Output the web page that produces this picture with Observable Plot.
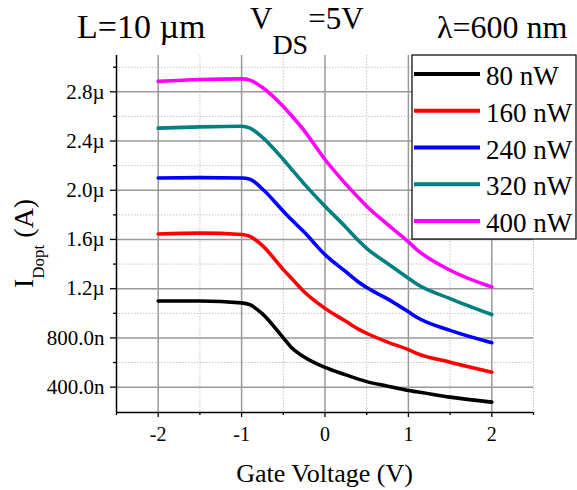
<!DOCTYPE html>
<html><head><meta charset="utf-8">
<script src="https://cdn.jsdelivr.net/npm/d3@7"></script>
<script src="https://cdn.jsdelivr.net/npm/@observablehq/plot@0.6"></script>
<style>
body{margin:0;background:#fff}
#chart{width:577px;height:490px;position:relative}
</style>
</head><body><div id="chart"></div>
<script>
// Gate voltage (V)
const gateVoltage = [-2, -1.5, -1, -0.9, -0.75, -0.5, -0.4, -0.25, 0, 0.25, 0.4, 0.5, 0.75, 1, 1.1, 1.5, 2];
// Photocurrent I_Dopt (µA)
const current80  = [1.100, 1.100, 1.085, 1.070, 0.995, 0.800, 0.720, 0.645, 0.560, 0.500, 0.465, 0.445, 0.408, 0.372, 0.362, 0.319, 0.278];
const current160 = [1.645, 1.652, 1.640, 1.625, 1.550, 1.355, 1.283, 1.175, 1.040, 0.935, 0.872, 0.838, 0.766, 0.705, 0.674, 0.603, 0.522];
const current240 = [2.100, 2.103, 2.100, 2.090, 2.010, 1.830, 1.760, 1.660, 1.477, 1.338, 1.255, 1.210, 1.117, 1.012, 0.968, 0.861, 0.761];
const current320 = [2.505, 2.515, 2.520, 2.505, 2.430, 2.250, 2.170, 2.052, 1.870, 1.700, 1.592, 1.528, 1.405, 1.285, 1.238, 1.120, 0.990];
const current400 = [2.885, 2.900, 2.905, 2.895, 2.835, 2.680, 2.605, 2.485, 2.250, 2.050, 1.940, 1.870, 1.722, 1.580, 1.518, 1.350, 1.214];

const seriesNames  = ["80 nW", "160 nW", "240 nW", "320 nW", "400 nW"];
const seriesColors = ["#000000", "#ff0000", "#0000ff", "#008080", "#ff00ff"];
const seriesValues = [current80, current160, current240, current320, current400];

const xMajorTicks = [-2, -1, 0, 1, 2];
const xMinorTicks = [-2.5, -1.5, -0.5, 0.5, 1.5, 2.5];
const yMajorTicks = [0.4, 0.8, 1.2, 1.6, 2.0, 2.4, 2.8];
const yMinorTicks = [0.6, 1.0, 1.4, 1.8, 2.2, 2.6, 3.0];
const xDomain = [-2.5, 2.5];
const yDomain = [0.194, 3.095];

const data = [];
seriesNames.forEach((name, s) => {
  gateVoltage.forEach((g, i) => data.push({gate: g, current: seriesValues[s][i], series: name}));
});

const fmtY = d => d < 1 ? (d * 1000).toFixed(1) + "n" : d.toFixed(1) + "\u00b5";
const fmtX = d => String(d);

const W = 577, H = 490, mT = 55, mB = 78, mL = 116, mR = 44;

const svg = Plot.plot({
  width: W, height: H,
  marginTop: mT, marginBottom: mB, marginLeft: mL, marginRight: mR,
  style: {fontFamily: "'Liberation Serif', 'Times New Roman', serif", background: "#fff", color: "#000", overflow: "visible"},
  x: {domain: xDomain},
  y: {domain: yDomain},
  color: {domain: seriesNames, range: seriesColors},
  marks: [
    Plot.gridX(xMinorTicks, {stroke: "#c4c4c4", strokeOpacity: 1, strokeDasharray: "1.5,1.5", strokeWidth: 1}),
    Plot.gridY(yMinorTicks, {stroke: "#c4c4c4", strokeOpacity: 1, strokeDasharray: "1.5,1.5", strokeWidth: 1}),
    Plot.gridX(xMajorTicks, {stroke: "#9a9a9a", strokeOpacity: 1, strokeWidth: 1.5}),
    Plot.gridY(yMajorTicks, {stroke: "#9a9a9a", strokeOpacity: 1, strokeWidth: 1.5}),
    Plot.axisX({ticks: xMajorTicks, tickSize: 5, tickPadding: 9, tickFormat: fmtX, fontSize: 20, label: null, strokeWidth: 1.3}),
    Plot.axisX({ticks: xMinorTicks, tickSize: 3, tickFormat: () => "", label: null, strokeWidth: 1.3}),
    Plot.axisY({ticks: yMajorTicks, tickSize: 6, tickPadding: 6, tickFormat: fmtY, fontSize: 21, label: null, strokeWidth: 1.3}),
    Plot.axisY({ticks: yMinorTicks, tickSize: 3, tickFormat: () => "", label: null, strokeWidth: 1.3}),
    Plot.ruleX([xDomain[0]], {stroke: "#000", strokeWidth: 1.5}),
    Plot.ruleY([yDomain[0]], {stroke: "#000", strokeWidth: 1.5}),
    Plot.line(data, {x: "gate", y: "current", stroke: "series", z: "series", strokeWidth: 3.6, curve: "monotone-x", strokeLinejoin: "round"})
  ]
});
document.getElementById("chart").appendChild(svg);

const s = d3.select(svg);
const font = "'Liberation Serif', 'Times New Roman', serif";

// Header texts
s.append("text").attr("x", 77).attr("y", 38).attr("text-anchor", "start").attr("font-family", font).attr("font-size", 34).attr("fill", "#000").text("L=10 \u00b5m");
const v = s.append("text").attr("x", 250).attr("y", 29).attr("text-anchor", "start").attr("font-family", font).attr("font-size", 31).attr("fill", "#000");
v.append("tspan").text("V");
v.append("tspan").attr("dy", 25).attr("font-size", 28).text("DS");
v.append("tspan").attr("dy", -25).text("=5V");
s.append("text").attr("x", 437).attr("y", 38).attr("text-anchor", "start").attr("font-family", font).attr("font-size", 32).attr("fill", "#000").text("\u03bb=600 nm");

// Axis titles
s.append("text").attr("x", (mL + W - mR) / 2).attr("y", 482).attr("text-anchor", "middle")
  .attr("font-family", font).attr("font-size", 26).attr("fill", "#000").text("Gate Voltage (V)");
const yt = s.append("text").attr("transform", "translate(33,288) rotate(-90)").attr("text-anchor", "start")
  .attr("font-family", font).attr("font-size", 28).attr("fill", "#000");
yt.append("tspan").text("I");
yt.append("tspan").attr("dy", 11).attr("font-size", 17).text("Dopt");
yt.append("tspan").attr("dy", -11).text(" (A)");

// Legend
const lg = s.append("g").attr("text-anchor", "start");
lg.append("rect").attr("x", 412).attr("y", 55).attr("width", 164).attr("height", 184)
  .attr("fill", "#fff").attr("stroke", "#000").attr("stroke-width", 1.2);
seriesNames.forEach((name, i) => {
  const yy = 74 + i * 36.75;
  lg.append("line").attr("x1", 414).attr("x2", 480).attr("y1", yy).attr("y2", yy)
    .attr("stroke", seriesColors[i]).attr("stroke-width", 4);
  lg.append("text").attr("x", 486).attr("y", yy + 11).attr("font-family", font).attr("font-size", 27)
    .attr("fill", "#000").text(name);
});
</script>
</body></html>
